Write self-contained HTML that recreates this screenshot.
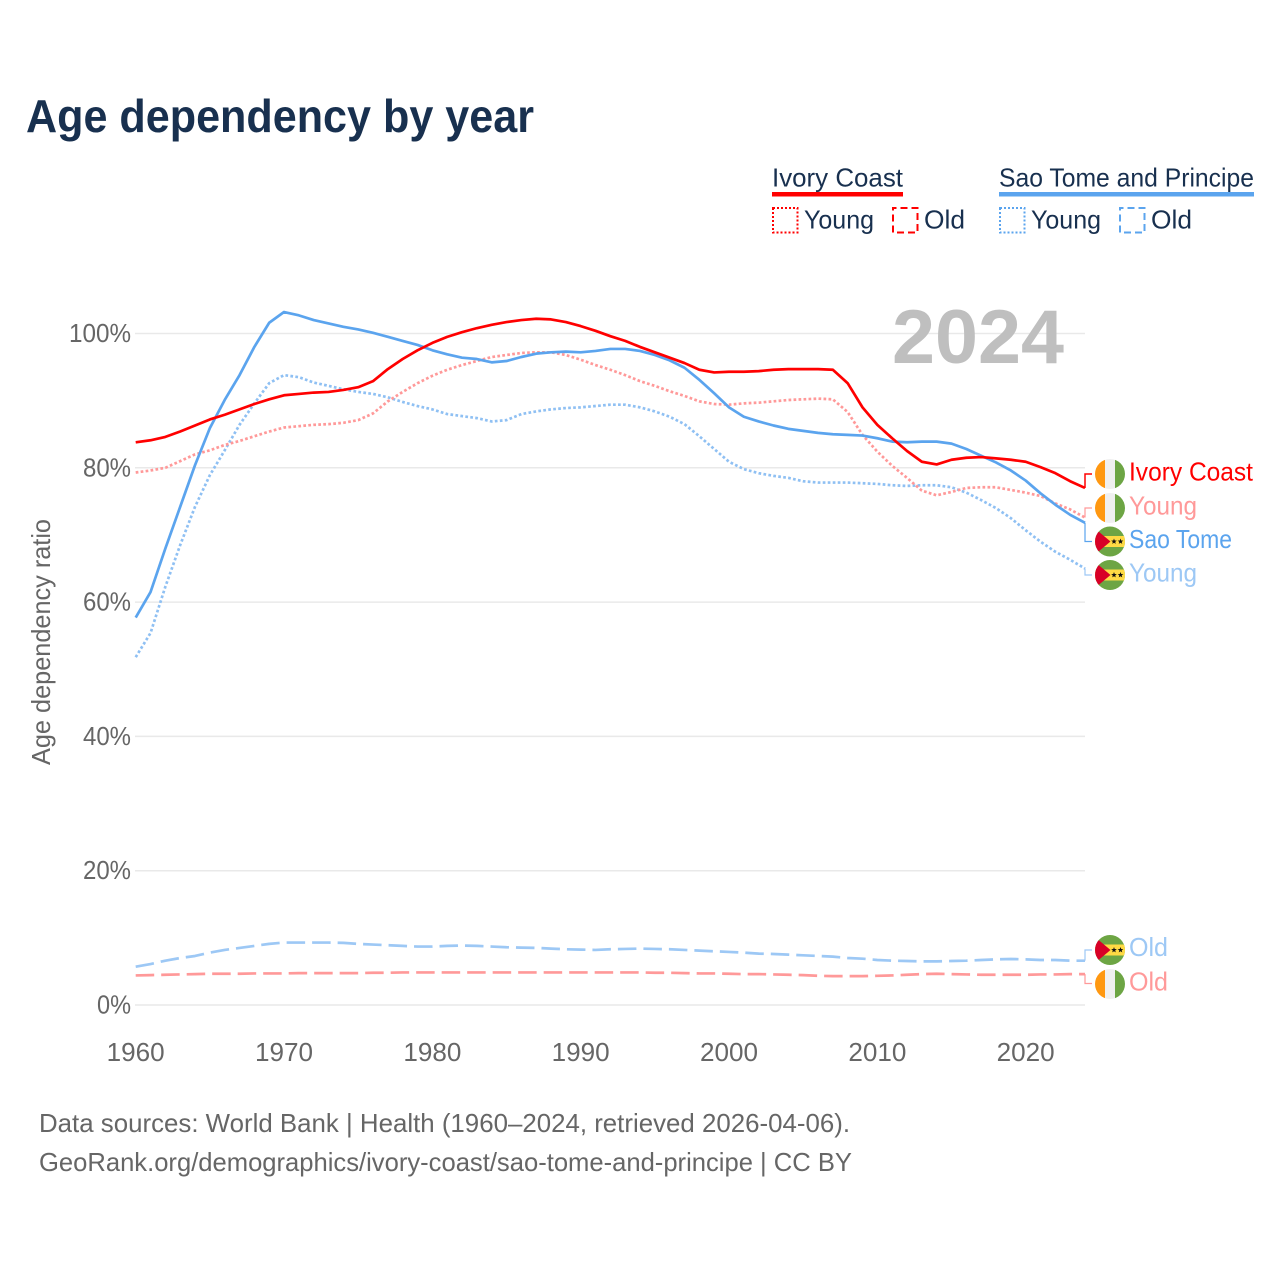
<!DOCTYPE html>
<html lang="en">
<head>
<meta charset="utf-8">
<title>Age dependency by year</title>
<style>
html,body{margin:0;padding:0;background:#fff;width:1280px;height:1280px;overflow:hidden}
svg{display:block}
text{font-family:"Liberation Sans",sans-serif}
.lab{font-size:26px}
.navy{fill:#18304f}
.grey{fill:#666666}
</style>
</head>
<body>
<svg id="chart" xmlns="http://www.w3.org/2000/svg" width="1280" height="1280" viewBox="0 0 1280 1280">
<rect x="0" y="0" width="1280" height="1280" fill="#ffffff"/>
<text x="26" y="132" font-size="46" font-weight="700" class="navy" textLength="508" lengthAdjust="spacingAndGlyphs">Age dependency by year</text>

<g>
<text x="772" y="186.5" class="lab navy" textLength="131" lengthAdjust="spacingAndGlyphs">Ivory Coast</text>
<rect x="772" y="192" width="131" height="4.5" fill="#ff0000"/>
<rect x="773" y="208" width="24.5" height="24.5" fill="none" stroke="#ff0000" stroke-width="2" stroke-dasharray="2 2"/>
<text x="804" y="228.5" class="lab navy" textLength="70" lengthAdjust="spacingAndGlyphs">Young</text>
<rect x="893" y="208" width="24.5" height="24.5" fill="none" stroke="#ff0000" stroke-width="2" stroke-dasharray="7 4" stroke-dashoffset="3.5"/>
<text x="924" y="228.5" class="lab navy" textLength="41" lengthAdjust="spacingAndGlyphs">Old</text>

<text x="999" y="186.5" class="lab navy" textLength="255" lengthAdjust="spacingAndGlyphs">Sao Tome and Principe</text>
<rect x="999" y="192" width="255" height="4.5" fill="#5ba4ee"/>
<rect x="1000" y="208" width="24.5" height="24.5" fill="none" stroke="#5ba4ee" stroke-width="2" stroke-dasharray="2 2"/>
<text x="1031" y="228.5" class="lab navy" textLength="70" lengthAdjust="spacingAndGlyphs">Young</text>
<rect x="1120" y="208" width="24.5" height="24.5" fill="none" stroke="#5ba4ee" stroke-width="2" stroke-dasharray="7 4" stroke-dashoffset="3.5"/>
<text x="1151" y="228.5" class="lab navy" textLength="41" lengthAdjust="spacingAndGlyphs">Old</text>
</g>

<g id="grid"></g>
<g id="ytick-labels"></g>
<g id="xtick-labels"></g>
<text x="0" y="0" transform="translate(50,642) rotate(-90)" text-anchor="middle" class="lab grey" textLength="246" lengthAdjust="spacingAndGlyphs">Age dependency ratio</text>
<text x="892" y="363" font-size="76" font-weight="700" fill="#bfbfbf" textLength="172" lengthAdjust="spacingAndGlyphs">2024</text>

<g id="series"></g>
<g id="end-labels"></g>

<text x="39" y="1132" class="lab grey" textLength="811" lengthAdjust="spacingAndGlyphs">Data sources: World Bank | Health (1960–2024, retrieved 2026-04-06).</text>
<text x="39" y="1171" class="lab grey" textLength="813" lengthAdjust="spacingAndGlyphs">GeoRank.org/demographics/ivory-coast/sao-tome-and-principe | CC BY</text>
</svg>

<script>
const firstYear = 1960;
const lastYear = 2024;
const yTicks = [0, 20, 40, 60, 80, 100];
const xTicks = [1960, 1970, 1980, 1990, 2000, 2010, 2020];

const ivoryTotal = [83.8,84.1,84.6,85.4,86.3,87.2,87.9,88.7,89.5,90.2,90.8,91.0,91.2,91.3,91.6,92.0,92.9,94.7,96.2,97.5,98.6,99.5,100.2,100.8,101.3,101.7,102.0,102.2,102.1,101.7,101.1,100.4,99.6,98.9,98.0,97.2,96.4,95.6,94.6,94.2,94.3,94.3,94.4,94.6,94.7,94.7,94.7,94.6,92.6,89.0,86.4,84.4,82.5,80.9,80.5,81.2,81.5,81.6,81.4,81.2,80.9,80.1,79.2,78.0,77.0];
const ivoryYoung = [79.3,79.6,80.0,81.0,82.0,82.6,83.4,84.0,84.7,85.4,86.0,86.2,86.4,86.5,86.7,87.1,88.1,89.9,91.3,92.6,93.7,94.6,95.3,95.9,96.5,96.8,97.1,97.2,97.2,96.8,96.1,95.3,94.6,93.8,92.9,92.2,91.4,90.7,89.9,89.5,89.4,89.6,89.7,89.9,90.1,90.2,90.3,90.2,88.3,84.9,82.4,80.3,78.5,76.6,75.9,76.4,77.0,77.1,77.1,76.7,76.3,75.8,74.7,73.8,72.6];
const ivoryOld = [4.4,4.45,4.5,4.55,4.6,4.65,4.65,4.65,4.7,4.7,4.7,4.75,4.75,4.75,4.75,4.75,4.8,4.8,4.85,4.85,4.85,4.85,4.85,4.85,4.85,4.85,4.85,4.85,4.85,4.85,4.85,4.85,4.85,4.85,4.85,4.8,4.8,4.75,4.7,4.7,4.65,4.6,4.6,4.55,4.5,4.45,4.35,4.3,4.3,4.3,4.35,4.4,4.5,4.6,4.65,4.6,4.55,4.5,4.5,4.5,4.5,4.55,4.55,4.6,4.6];
const saoTomeTotal = [57.7,61.5,68.0,74.2,80.4,85.9,90.1,93.8,98.0,101.6,103.2,102.7,102.0,101.5,101.0,100.6,100.1,99.5,98.9,98.3,97.5,96.9,96.4,96.2,95.7,95.9,96.5,97.0,97.2,97.3,97.2,97.4,97.7,97.7,97.4,96.8,96.0,94.9,93.1,91.1,89.0,87.6,86.9,86.3,85.8,85.5,85.2,85.0,84.9,84.8,84.4,83.9,83.8,83.9,83.9,83.6,82.8,81.8,80.8,79.6,78.1,76.2,74.5,73.0,71.8];
const saoTomeYoung = [51.8,55.4,62.3,68.5,74.2,78.9,82.6,86.4,89.6,92.6,93.8,93.5,92.7,92.2,91.7,91.3,91.0,90.5,89.8,89.2,88.7,88.0,87.7,87.4,86.9,87.1,88.0,88.4,88.7,88.9,89.0,89.2,89.4,89.4,89.0,88.4,87.6,86.5,84.7,82.8,80.9,79.8,79.2,78.8,78.5,78.0,77.8,77.8,77.8,77.7,77.6,77.4,77.3,77.4,77.4,77.1,76.3,75.2,74.0,72.5,70.7,69.0,67.5,66.3,65.0];
const saoTomeOld = [5.7,6.1,6.6,7.0,7.3,7.8,8.2,8.5,8.8,9.1,9.3,9.3,9.3,9.3,9.25,9.1,9.0,8.9,8.8,8.7,8.7,8.8,8.85,8.8,8.7,8.6,8.55,8.5,8.4,8.3,8.25,8.2,8.3,8.35,8.4,8.35,8.3,8.2,8.1,8.0,7.9,7.8,7.65,7.6,7.5,7.4,7.3,7.2,7.0,6.9,6.7,6.6,6.55,6.5,6.5,6.55,6.6,6.7,6.8,6.85,6.8,6.7,6.7,6.6,6.6];

const NS = 'http://www.w3.org/2000/svg';
const xScale = y => 135.7 + (y - firstYear) * (1085 - 135.7) / (lastYear - firstYear);
const yScale = v => 1005 - v * 6.715;

const gridG = document.getElementById('grid');
const yG = document.getElementById('ytick-labels');
const xG = document.getElementById('xtick-labels');
const seriesG = document.getElementById('series');
const labelsG = document.getElementById('end-labels');

function mk(tag, attrs, parent) {
  const el = document.createElementNS(NS, tag);
  for (const k in attrs) el.setAttribute(k, attrs[k]);
  parent.appendChild(el);
  return el;
}

yTicks.forEach(t => {
  const line = mk('line', {x1: 135, x2: 1085, y1: yScale(t), y2: yScale(t), stroke: '#e9e9e9', 'stroke-width': 1.5}, gridG);
  
  
  const label = mk('text', {x: 131, y: yScale(t) + 8.5, 'text-anchor': 'end', class: 'lab grey', textLength: t === 100 ? 62 : (t === 0 ? 34 : 48), lengthAdjust: 'spacingAndGlyphs'}, yG);
  label.textContent = t + '%';
  
  
});

xTicks.forEach(t => {
  const label = mk('text', {x: xScale(t), y: 1061, 'text-anchor': 'middle', class: 'lab grey', textLength: 58, lengthAdjust: 'spacingAndGlyphs'}, xG);
  label.textContent = String(t);
  
  
});

const DOT = '2.7 2.3';
const DASH = '18.5 7';

function drawSeries(values, color, dash, name) {
  const pts = values.map((v, i) => xScale(firstYear + i).toFixed(2) + ',' + yScale(v).toFixed(2)).join(' ');
  const attrs = {points: pts, fill: 'none', stroke: color, 'stroke-width': 2.7, 'stroke-linejoin': 'round'};
  if (dash) attrs['stroke-dasharray'] = dash;
  const line = mk('polyline', attrs, seriesG);
  
  
}

drawSeries(saoTomeOld, '#9dc8f5', DASH, 'line-sao-tome-old');
drawSeries(ivoryOld, '#ff9999', DASH, 'line-ivory-coast-old');
drawSeries(saoTomeYoung, '#8fc0f3', DOT, 'line-sao-tome-young');
drawSeries(ivoryYoung, '#ff9999', DOT, 'line-ivory-coast-young');
drawSeries(saoTomeTotal, '#5ba4ee', null, 'line-sao-tome-total');
drawSeries(ivoryTotal, '#ff0000', null, 'line-ivory-coast-total');

function star(cx, cy, r, parent) {
  const p = [];
  for (let i = 0; i < 10; i++) {
    const rr = i % 2 ? r * 0.42 : r;
    const a = -Math.PI / 2 + i * Math.PI / 5;
    p.push((cx + rr * Math.cos(a)).toFixed(2) + ',' + (cy + rr * Math.sin(a)).toFixed(2));
  }
  mk('polygon', {points: p.join(' '), fill: '#111111'}, parent);
}

let clipCount = 0;
function flag(kind, cy, name) {
  const cx = 1110, r = 15;
  const g = mk('g', {}, labelsG);
  
  
  const id = 'flagclip' + (clipCount++);
  const cp = mk('clipPath', {id: id}, g);
  mk('circle', {cx: cx, cy: cy, r: r}, cp);
  const inner = mk('g', {'clip-path': 'url(#' + id + ')'}, g);
  if (kind === 'ivory') {
    mk('rect', {x: cx - r, y: cy - r, width: 10, height: 30, fill: '#ff9811'}, inner);
    mk('rect', {x: cx - r + 10, y: cy - r, width: 10, height: 30, fill: '#f0f0f0'}, inner);
    mk('rect', {x: cx - r + 20, y: cy - r, width: 10, height: 30, fill: '#6da544'}, inner);
  } else {
    mk('rect', {x: cx - r, y: cy - r, width: 30, height: 30, fill: '#6da544'}, inner);
    mk('rect', {x: cx - r, y: cy - 5.5, width: 30, height: 11, fill: '#ffda44'}, inner);
    mk('polygon', {points: (cx - r) + ',' + (cy - 13) + ' ' + (cx + 0.5) + ',' + cy + ' ' + (cx - r) + ',' + (cy + 13), fill: '#d80027'}, inner);
    star(cx + 4, cy, 3, inner);
    star(cx + 10.5, cy, 3, inner);
  }
}

function connector(fromValue, labelY, color, width, name) {
  const y0 = yScale(fromValue);
  const line = mk('polyline', {points: '1085,' + y0.toFixed(2) + ' 1085,' + labelY + ' 1092,' + labelY, fill: 'none', stroke: color, 'stroke-width': width}, labelsG);
  
  
}

function endLabel(txt, y, color, w, name) {
  const t = mk('text', {x: 1129, y: y, class: 'lab', fill: color, textLength: w, lengthAdjust: 'spacingAndGlyphs'}, labelsG);
  t.textContent = txt;
  
  
}

connector(ivoryTotal[ivoryTotal.length - 1], 474, '#ff0000', 1.5, 'connector-ivory-coast');
connector(ivoryYoung[ivoryYoung.length - 1], 508, '#ff9999', 1.2, 'connector-ivory-young');
connector(saoTomeTotal[saoTomeTotal.length - 1], 541.5, '#5ba4ee', 1.2, 'connector-sao-tome');
connector(saoTomeYoung[saoTomeYoung.length - 1], 575, '#9dc8f5', 1.2, 'connector-sao-tome-young');
connector(saoTomeOld[saoTomeOld.length - 1], 950, '#9dc8f5', 1.2, 'connector-sao-tome-old');
connector(ivoryOld[ivoryOld.length - 1], 983.5, '#ff9999', 1.2, 'connector-ivory-old');

flag('ivory', 474, 'flag-ivory-coast');
flag('ivory', 508, 'flag-ivory-coast-young');
flag('sao', 541.5, 'flag-sao-tome');
flag('sao', 575, 'flag-sao-tome-young');
flag('sao', 950, 'flag-sao-tome-old');
flag('ivory', 984, 'flag-ivory-coast-old');

endLabel('Ivory Coast', 480.5, '#ff0000', 124, 'label-ivory-coast');
endLabel('Young', 514.5, '#ff9999', 68, 'label-ivory-coast-young');
endLabel('Sao Tome', 548, '#5ba4ee', 103, 'label-sao-tome');
endLabel('Young', 581.5, '#9dc8f5', 68, 'label-sao-tome-young');
endLabel('Old', 956, '#9dc8f5', 39, 'label-sao-tome-old');
endLabel('Old', 990.5, '#ff9999', 39, 'label-ivory-coast-old');
</script>
</body>
</html>
